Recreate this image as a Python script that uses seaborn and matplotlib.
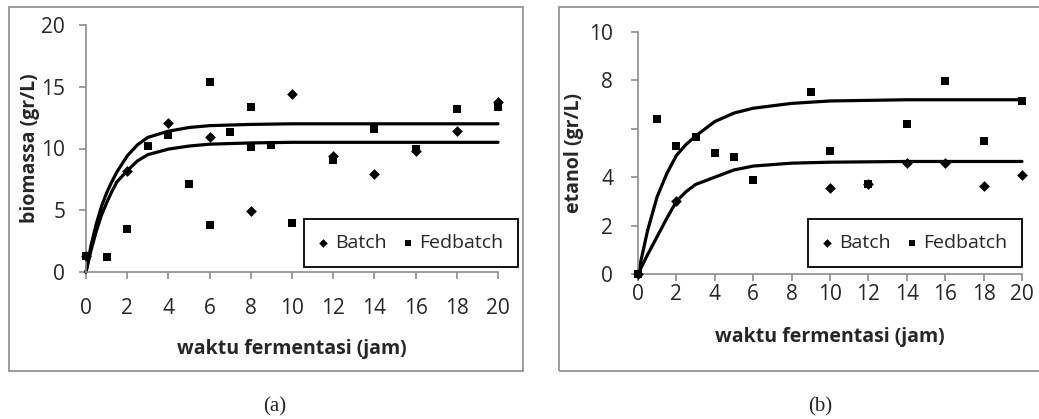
import numpy as np
import pandas as pd
import seaborn as sns
import matplotlib.pyplot as plt
from matplotlib.patches import Rectangle

# (a) biomassa
bio_batch_t = [0, 2, 4, 6, 8, 10, 12, 14, 16, 18, 20]
bio_batch_y = [1.3, 8.2, 12.1, 10.9, 4.9, 14.4, 9.4, 7.9, 9.8, 11.4, 13.8]
bio_fed_t = [0, 1, 2, 3, 4, 5, 6, 6, 7, 8, 8, 9, 10, 12, 14, 16, 18, 20]
bio_fed_y = [1.3, 1.2, 3.5, 10.2, 11.1, 7.1, 15.4, 3.8, 11.3, 13.4, 10.1, 10.3, 4.0, 9.1, 11.6, 10.0, 13.2, 13.4]
# model curves
bio_fit_t = [0, 0.25, 0.5, 0.75, 1, 1.25, 1.5, 2, 2.5, 3, 4, 5, 6, 8, 10, 14, 20]
bio_fit_hi = [0, 2.2, 3.9, 5.3, 6.4, 7.3, 8.1, 9.4, 10.3, 10.9, 11.4, 11.7, 11.85, 11.95, 12.0, 12.0, 12.0]
bio_fit_lo = [0, 1.8, 3.3, 4.6, 5.6, 6.5, 7.3, 8.2, 9.0, 9.5, 9.95, 10.2, 10.35, 10.45, 10.5, 10.5, 10.5]

# (b) etanol
eta_batch_t = [0, 2, 10, 12, 14, 16, 18, 20]
eta_batch_y = [0, 3.0, 3.55, 3.7, 4.6, 4.57, 3.65, 4.1]
eta_fed_t = [0, 1, 2, 3, 4, 5, 6, 9, 10, 12, 14, 16, 18, 20]
eta_fed_y = [0, 6.4, 5.3, 5.65, 5.0, 4.85, 3.9, 7.5, 5.1, 3.7, 6.2, 7.97, 5.5, 7.15]
eta_fit_t = [0, 0.5, 1, 1.5, 2, 2.5, 3, 4, 5, 6, 8, 10, 14, 20]
eta_fit_hi = [0, 1.8, 3.2, 4.15, 4.9, 5.35, 5.7, 6.3, 6.65, 6.85, 7.05, 7.15, 7.2, 7.2]
eta_fit_lo = [0, 0.8, 1.55, 2.3, 3.0, 3.4, 3.7, 4.0, 4.3, 4.46, 4.58, 4.62, 4.65, 4.65]
eta_yticks = [0, 2, 4, 6, 8, 10]
eta_ylabels = ['0', '2', '4', '', '8', '10']

sns.set_style('white')
plt.rcParams['font.family'] = ['Open Sans', 'DejaVu Sans']

fig = plt.figure(figsize=(10.39, 4.19), dpi=100)
W, H = 1039, 419


def px_axes(x0, x1, ytop, ybot):
    return fig.add_axes([x0 / W, (H - ybot) / H, (x1 - x0) / W, (ybot - ytop) / H])


ax1 = px_axes(86, 498, 25, 272)
ax2 = px_axes(638, 1022, 32, 274)

# chart area frames
fig.add_artist(Rectangle((9 / W, (H - 371) / H), 514 / W, 364 / H, transform=fig.transFigure,
                         fill=False, ec='#8c8c8c', lw=1.2))
fig.add_artist(Rectangle((559 / W, (H - 371) / H), 490 / W, 364 / H, transform=fig.transFigure,
                         fill=False, ec='#8c8c8c', lw=1.2))

panels = [
    (ax1, bio_batch_t, bio_batch_y, bio_fed_t, bio_fed_y, bio_fit_t, bio_fit_hi, bio_fit_lo,
     20, 'biomassa (gr/L)', (411, 243), 14, 14, 1, 10),
    (ax2, eta_batch_t, eta_batch_y, eta_fed_t, eta_fed_y, eta_fit_t, eta_fit_hi, eta_fit_lo,
     10, 'etanol (gr/L)', (915, 243), 2, 16, 4, 13),
]

for (ax, bt, by, ft, fy, fit_t, fit_hi, fit_lo, ymax, ylab, leg_xy,
     xpad, xlabpad, ylabpad, ypad) in panels:
    sns.lineplot(x=fit_t, y=fit_hi, color='black', lw=2.3, ax=ax, legend=False, clip_on=False)
    sns.lineplot(x=fit_t, y=fit_lo, color='black', lw=2.3, ax=ax, legend=False, clip_on=False)
    sns.scatterplot(x=ft, y=fy, marker='s', color='black', s=36, linewidth=0, ax=ax,
                    label='Fedbatch', clip_on=False, zorder=3)
    sns.scatterplot(x=bt, y=by, marker='D', color='black', s=30, linewidth=0, ax=ax,
                    label='Batch', clip_on=False, zorder=3)
    ax.set_xlim(0, 20)
    ax.set_ylim(0, ymax)
    ax.set_xticks(range(0, 21, 2))
    for s in ['top', 'right']:
        ax.spines[s].set_visible(False)
    for s in ['left', 'bottom']:
        ax.spines[s].set_color('#8c8c8c')
        ax.spines[s].set_linewidth(1.2)
    ax.tick_params(axis='both', direction='out', length=5, width=1.2, color='#8c8c8c',
                   labelsize=15, bottom=True, left=True)
    ax.tick_params(axis='x', pad=xpad)
    ax.tick_params(axis='y', pad=ypad)
    ax.set_xlabel('waktu fermentasi (jam)', fontsize=14, fontweight='bold', labelpad=xlabpad)
    ax.set_ylabel(ylab, fontsize=14, fontweight='bold', labelpad=ylabpad)
    handles, labels = ax.get_legend_handles_labels()
    order = [labels.index('Batch'), labels.index('Fedbatch')]
    leg = ax.legend([handles[i] for i in order], [labels[i] for i in order], ncol=2,
                    loc='center', bbox_to_anchor=(leg_xy[0] / W, (H - leg_xy[1]) / H),
                    bbox_transform=fig.transFigure, fontsize=14, frameon=True, fancybox=False,
                    edgecolor='black', framealpha=1, handlelength=0.5, handletextpad=0.35,
                    columnspacing=0.85, markerscale=0.8, borderpad=0.75, borderaxespad=0)
    leg.get_frame().set_linewidth(1.3)
    leg.set_zorder(5)

ax1.set_yticks(range(0, 21, 5))
ax2.set_yticks(eta_yticks)
ax2.set_yticklabels(eta_ylabels)

fig.text(275 / W, (H - 407) / H, '(a)', ha='center', va='center', fontsize=15,
         family='Liberation Serif')
fig.text(820 / W, (H - 407) / H, '(b)', ha='center', va='center', fontsize=15,
         family='Liberation Serif')

fig.savefig('out.png', dpi=100)
